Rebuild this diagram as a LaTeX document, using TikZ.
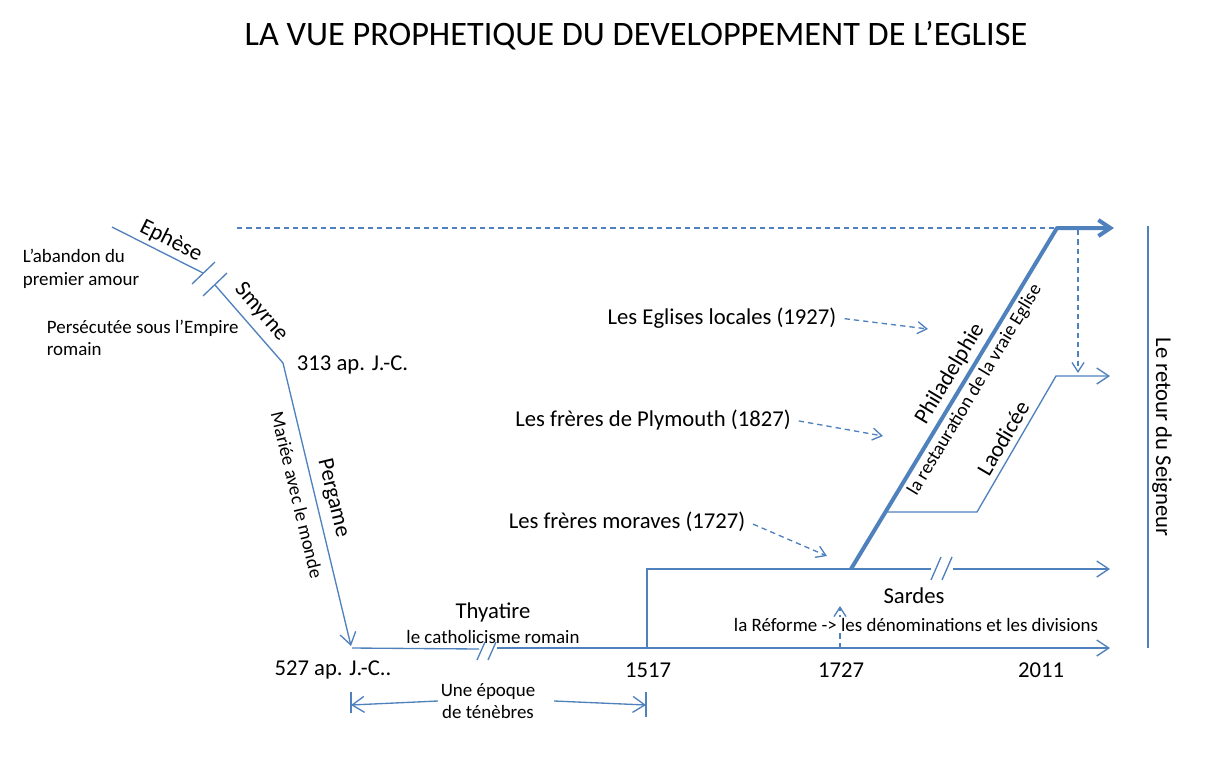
\documentclass[tikz,border=0pt]{standalone}
\usepackage{fontspec}
\setmainfont{Carlito}
\usetikzlibrary{arrows.meta, positioning}
\definecolor{lineblue}{RGB}{79,129,189}

\tikzset{
  line/.style={draw=lineblue, line width=1pt},
  arr/.style={line, -{Straight Barb[length=9pt,width=12pt]}},
  dasharr/.style={line, dash pattern=on 4pt off 3pt, shorten <=4pt, -{Straight Barb[length=7pt,width=9pt]}},
  thickarr/.style={draw=lineblue, line width=3pt, -{Straight Barb[length=9pt,width=12pt]}},
  txt/.style={font=\fontsize{17}{20}\selectfont, inner sep=2pt},
  smalltxt/.style={font=\fontsize{14.2}{17}\selectfont, inner sep=2pt}
}

\begin{document}
\begin{tikzpicture}[x=0.75pt, y=-0.75pt]
\useasboundingbox (0,0) rectangle (1229,769);

% Title
\node[font=\fontsize{25.7}{30}\selectfont] (title) at (636,36) {LA VUE PROPHETIQUE DU DEVELOPPEMENT DE L’EGLISE};

% Ephese and Smyrne
\coordinate (eph0) at (112,227);
\coordinate (eph1) at (203,273);
\coordinate (smy0) at (215,285);
\coordinate (c313) at (283,363);
\coordinate (c527) at (351,646);
\draw[line] (eph0) -- (eph1);
\draw[line] (192,284) -- (215,262);
\draw[line] (203,296) -- (227,273);
\draw[line] (smy0) -- (c313);
\draw[arr] (c313) -- (c527);
\node[txt, rotate=-26.6] (ephese) at (171,241) {Ephèse};
\node[txt, rotate=-49] (smyrne) at (261,312) {Smyrne};
\node[smalltxt, anchor=west, align=left] (abandon) at (20,269) {L’abandon du\\premier amour};
\node[smalltxt, anchor=west, align=left] (persecutee) at (44,338) {Persécutée sous l’Empire\\romain};
\node[txt, anchor=west] (n313) at (294,365) {313 ap. J.-C.};

% Pergame
\node[txt, rotate=-76.4] (pergame) at (333,498) {Pergame};
\node[smalltxt, rotate=-76.4] (mariee) at (297,495) {Mariée avec le monde};

% Thyatire
\coordinate (bot0) at (352,648);
\coordinate (botA) at (479,649);
\coordinate (botB) at (497,648);
\coordinate (botEnd) at (1110,648);
\draw[line] (bot0) -- (botA);
\draw[arr] (botB) -- (botEnd);
\foreach \x in {477,488}
  \draw[line] (\x,660) -- (\x+8,642);
\node[txt] (thyatire) at (493,612) {Thyatire};
\node[smalltxt] (catho) at (493,637) {le catholicisme romain};

% dates
\node[txt] (n527) at (333,670) {527 ap. J.-C..};
\node[txt] (n1517) at (648,670) {1517};
\node[txt] (n1727) at (841,670) {1727};
\node[txt] (n2011) at (1041,670) {2011};

% Une epoque de tenebres
\node[smalltxt, align=center] (epoque) at (488,701) {Une époque\\de ténèbres};
\coordinate (spanL) at (351,705);
\coordinate (spanR) at (646,705);
\draw[line] (351,692) -- (351,713);
\draw[line] (646,692) -- (646,717);
\draw[arr] (epoque.west) -- (spanL);
\draw[arr] ([xshift=12pt]epoque.east) -- (spanR);

% Sardes
\coordinate (c1517) at (647,648);
\coordinate (sar0) at (647,569);
\coordinate (sarA) at (931,569);
\coordinate (sarB) at (953,569);
\coordinate (sarEnd) at (1110,569);
\draw[line] (c1517) -- (sar0) -- (sarA);
\draw[arr] (sarB) -- (sarEnd);
\foreach \x in {931,942}
  \draw[line] (\x,580) -- (\x+10,557);
\coordinate (up0) at (840,648);
\coordinate (up1) at (840,606);
\draw[dasharr, shorten <=0pt] (up0) -- (up1);
\node[txt] (sardes) at (914,596) {Sardes};
\node[smalltxt, fill=white, inner sep=1pt] (reforme) at (916,625) {la Réforme -> les dénominations et les divisions};

% Philadelphie
\coordinate (phil0) at (851,569);
\coordinate (phil1) at (1057,228);
\coordinate (philEnd) at (1114,228);
\draw[thickarr, line join=round] (phil0) -- (phil1) -- (philEnd);
\node[txt, rotate=58.9] (phil) at (950,374) {Philadelphie};
\node[smalltxt, rotate=58.9] (restauration) at (975,390) {la restauration de la vraie Eglise};

% Laodicee
\coordinate (lao0) at (886,512);
\coordinate (lao1) at (977,512);
\coordinate (lao2) at (1056,376);
\coordinate (laoEnd) at (1110,376);
\draw[arr] (lao0) -- (lao1) -- (lao2) -- (laoEnd);
\node[txt, rotate=59.5] (laodicee) at (1003,438) {Laodicée};

% dashed links
\coordinate (dtop) at (237,228);
\draw[line, dash pattern=on 4pt off 3pt] (dtop) -- (phil1);
\coordinate (ddown0) at (1078,230);
\coordinate (ddown1) at (1078,373);
\draw[dasharr, shorten <=0pt] (ddown0) -- (ddown1);

\node[txt] (eglises) at (722,318) {Les Eglises locales (1927)};
\node[txt] (plymouth) at (653,420) {Les frères de Plymouth (1827)};
\node[txt] (moraves) at (627,522) {Les frères moraves (1727)};
\coordinate (eglisesTo) at (928,329);
\coordinate (plymouthTo) at (883,436);
\coordinate (moravesTo) at (827,556);
\draw[dasharr] (eglises.east) -- (eglisesTo);
\draw[dasharr] (plymouth.east) -- (plymouthTo);
\draw[dasharr] (moraves.east) -- (moravesTo);

% Le retour du Seigneur
\coordinate (ret0) at (1148,226);
\coordinate (ret1) at (1148,648);
\draw[line] (ret0) -- (ret1);
\node[txt, rotate=-90] (retour) at (1162,437) {Le retour du Seigneur};
\end{tikzpicture}
\end{document}
